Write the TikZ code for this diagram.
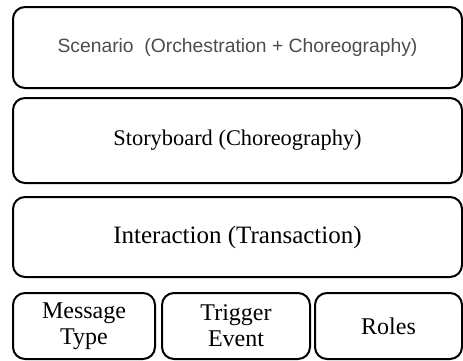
\documentclass[tikz,border=0pt]{standalone}
\usepackage{fontspec}
\setmainfont{Liberation Serif}
\setsansfont{Liberation Sans}
\begin{document}
\begin{tikzpicture}[x=1pt,y=-1pt,
  layer/.style={draw=black, line width=2pt, rounded corners=12pt,
    inner sep=0pt, outer sep=0pt, align=center},
  serifline/.style={font=\rmfamily\fontsize{#1}{26}\selectfont},
  serifline/.default=24,
  sansline/.style={font=\sffamily\fontsize{19.3}{22}\selectfont, text=black!70}]
\useasboundingbox (0,0) rectangle (463,360);
% stacked layers
\node[layer, sansline, minimum width=449pt, minimum height=81pt] (scenario) at (237.5,47.5)
  {Scenario\ \ (Orchestration\ +\ Choreography)};
\node[layer, serifline=22.4, minimum width=449pt, minimum height=85pt] (storyboard) at (237.5,140.5)
  {Storyboard (Choreography)};
\node[layer, serifline=25, minimum width=449pt, minimum height=80pt] (interaction) at (237.5,237)
  {Interaction (Transaction)};
% building blocks of an interaction
\node[layer, serifline, minimum width=142pt, minimum height=66pt] (msg) at (84,326)
  {Message\\Type};
\node[layer, serifline, minimum width=148pt, minimum height=66pt] (trig) at (236,326)
  {Trigger\\Event};
\node[layer, serifline, minimum width=147pt, minimum height=66pt] (roles) at (388.5,326)
  {Roles};
\end{tikzpicture}
\end{document}
